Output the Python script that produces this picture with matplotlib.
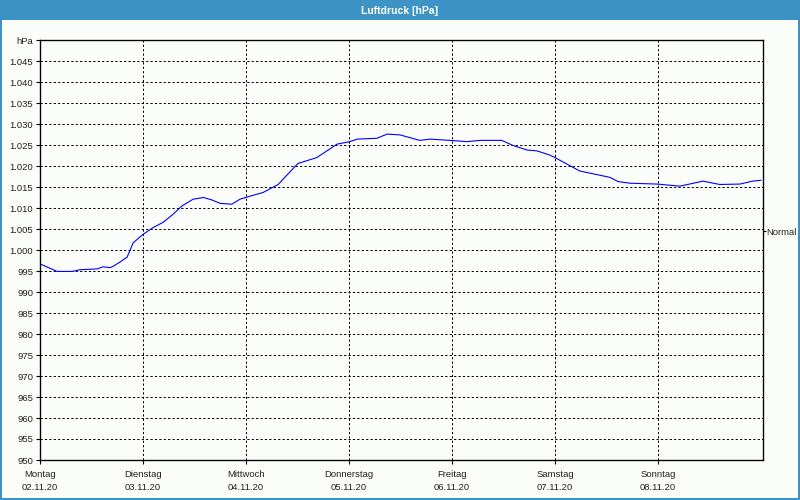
import matplotlib
matplotlib.use("Agg")
import matplotlib.pyplot as plt
from matplotlib.patches import Rectangle
from matplotlib.ticker import FixedLocator, FuncFormatter

plt.rcParams['font.family'] = ['Liberation Sans', 'DejaVu Sans']

title = "Luftdruck [hPa]"
day_names = ["Montag", "Dienstag", "Mittwoch", "Donnerstag", "Freitag", "Samstag", "Sonntag"]
day_dates = ["02.11.20", "03.11.20", "04.11.20", "05.11.20", "06.11.20", "07.11.20", "08.11.20"]
normal_value = 1004.5

hours = [0, 4, 7.5, 9.3, 13.3, 14.7, 16.3, 17, 18.6, 20.3, 21.7, 24, 26.3, 28.7, 31, 33.1,
         35.7, 38.1, 40.1, 42, 44.7, 46.6, 48.9, 52, 55.5, 60.1, 64.5, 69.2, 72.2, 73.9,
         78.5, 80.9, 83.9, 88.5, 90.9, 95.5, 99.5, 102.5, 107.6, 110.2, 113.5, 115.8,
         118.8, 120, 125.8, 132.8, 134.7, 137.5, 143.8, 149.1, 154.5, 158.4, 163.1, 166.1, 168]
pressure = [996.7, 994.9, 994.9, 995.3, 995.5, 996.0, 995.8, 996.1, 997.1, 998.3, 1001.7,
            1003.7, 1005.3, 1006.6, 1008.5, 1010.5, 1012.1, 1012.5, 1011.9, 1011.1, 1010.9,
            1012.1, 1012.8, 1013.7, 1015.6, 1020.6, 1022.0, 1025.2, 1025.8, 1026.4, 1026.6,
            1027.6, 1027.4, 1026.1, 1026.4, 1026.1, 1025.8, 1026.1, 1026.1, 1024.9, 1023.8,
            1023.6, 1022.6, 1022.0, 1018.8, 1017.3, 1016.3, 1015.9, 1015.7, 1015.2, 1016.4,
            1015.6, 1015.7, 1016.4, 1016.6]

y_ticks = list(range(950, 1051, 5))

def fmt(v, pos=None):
    v = int(round(v))
    if v == 1050:
        return "hPa"
    if v >= 1000:
        return f"{v // 1000}.{v % 1000:03d}"
    return str(v)

bg = "#fbfdfb"
blue = "#3d93c5"

fig = plt.figure(figsize=(8, 5), dpi=100, facecolor=bg)
# title bar and border
fig.patches.append(Rectangle((0, 0.96), 1, 0.04, transform=fig.transFigure, facecolor=blue, edgecolor='none', zorder=0))
fig.patches.append(Rectangle((0, 0), 0.0025, 1, transform=fig.transFigure, facecolor=blue, edgecolor='none', zorder=0))
fig.patches.append(Rectangle((0.9975, 0), 0.0025, 1, transform=fig.transFigure, facecolor=blue, edgecolor='none', zorder=0))
fig.patches.append(Rectangle((0, 0), 1, 0.004, transform=fig.transFigure, facecolor=blue, edgecolor='none', zorder=0))
fig.text(0.5, 0.979, title, color="white", ha="center", va="center", fontsize=7.5, fontweight="bold")

ax = fig.add_axes([0.05, 0.08, 0.90375, 0.84])
ax.set_facecolor(bg)
days = [h / 24 for h in hours]
ax.plot(days, pressure, color="#0000ff", lw=0.8)
ax.set_xlim(0, 7.02)
ax.set_ylim(950, 1050)

ax.yaxis.set_major_locator(FixedLocator(y_ticks))
ax.yaxis.set_major_formatter(FuncFormatter(fmt))
ax.set_xticks(range(7))
ax.set_xticklabels([f"{n}\n{d}" for n, d in zip(day_names, day_dates)], linespacing=1.55)
ax.tick_params(axis='both', labelsize=6.8, length=3, width=0.8, color='black', labelcolor='#222222', pad=2)
ax.tick_params(axis='x', pad=4)
ax.grid(True, color='black', linestyle=(0, (2.2, 2.2)), linewidth=0.72)
for s in ax.spines.values():
    s.set_linewidth(0.9)

ax2 = ax.twinx()
ax2.set_ylim(950, 1050)
ax2.set_yticks([normal_value])
ax2.set_yticklabels(["Normal"])
ax2.tick_params(axis='y', labelsize=6.8, length=2, width=0.8, labelcolor='#222222', pad=0.5)

fig.savefig("out.png", dpi=100, facecolor=bg)
